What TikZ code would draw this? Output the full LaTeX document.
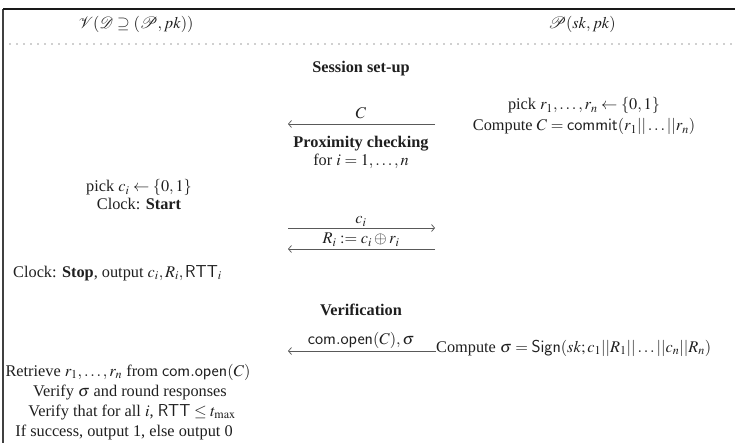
\documentclass[tikz,border=0pt]{standalone}
\usepackage{mathptmx}
\usepackage{fontspec}
\setmainfont{Liberation Serif}
\setsansfont{Liberation Sans}
\usetikzlibrary{arrows.meta}
\begin{document}
\begin{tikzpicture}[x=1pt,y=-1pt,
  txt/.style={inner sep=0pt, anchor=base, font=\fontsize{16.3}{20}\selectfont, text=black!88},
  hd/.style={txt, font=\fontsize{16.3}{20}\selectfont\bfseries},
  msg/.style={draw=black!65, line width=0.75pt, -{Straight Barb[length=3pt,width=7pt]}},
  frame/.style={line width=1.3pt, draw=black!75},
  topline/.style={line width=1.8pt, draw=black!90},
  dots/.style={line width=1.4pt, line cap=round, dash pattern=on 0pt off 7pt, draw=black!80}]
\useasboundingbox (0,0) rectangle (735,443);
% frame
\coordinate (tl) at (3,9);
\coordinate (tr) at (735,9);
\coordinate (bl) at (3,443);
\draw[frame] (tl) -- (bl);
\draw[topline] (tl) -- (tr);
% header
\node[txt] (V) at (136,29) {$\mathcal{V}(\mathcal{D}\supseteq(\mathcal{P},pk))$};
\node[txt] (P) at (582,29) {$\mathcal{P}(sk,pk)$};
\coordinate (d1) at (10,44);
\coordinate (d2) at (735,44);
\draw[dots] (d1) -- (d2);
% session set-up
\node[hd] (ss) at (361,73) {Session set-up};
\node[txt] (pr) at (584,110) {pick $r_1,\ldots,r_n\leftarrow\{0,1\}$};
\node[txt] (cc) at (584,131) {Compute $C=\mathsf{commit}(r_1||\ldots||r_n)$};
\coordinate (a1r) at (435,124);
\coordinate (a1l) at (288,124);
\node[txt] (Clab) at (361,119) {$C$};
\draw[msg] (a1r) -- (a1l);
% proximity checking
\node[hd] (pc) at (361,148) {Proximity checking};
\node[txt] (fori) at (361,166) {for $i=1,\ldots,n$};
\node[txt] (pci) at (139,192) {pick $c_i\leftarrow\{0,1\}$};
\node[txt] (cs) at (139,210) {Clock: \textbf{Start}};
\coordinate (a2l) at (288,228);
\coordinate (a2r) at (435,228);
\node[txt] (cil) at (361,224) {$c_i$};
\draw[msg] (a2l) -- (a2r);
\coordinate (a3r) at (435,249);
\coordinate (a3l) at (288,249);
\node[txt] (ril) at (361,244) {$R_i:=c_i\oplus r_i$};
\draw[msg] (a3r) -- (a3l);
\node[txt, anchor=base west] (cst) at (13,277) {Clock: \textbf{Stop}, output $c_i,R_i,\mathsf{RTT}_i$};
% verification
\node[hd] (ver) at (361,315) {Verification};
\node[txt, anchor=west] (sig) at (436,348) {Compute $\sigma=\mathsf{Sign}(sk;c_1||R_1||\ldots||c_n||R_n)$};
\coordinate (a4l) at (288,351);
\node[txt] (openl) at (361,344) {$\mathsf{com.open}(C),\sigma$};
\draw[msg] (sig.west |- a4l) -- (a4l);
\node[txt] (ret) at (128,376) {Retrieve $r_1,\ldots,r_n$ from $\mathsf{com.open}(C)$};
\node[txt] (vs) at (130,396) {Verify $\sigma$ and round responses};
\node[txt] (vt) at (132,416) {Verify that for all $i$, $\mathsf{RTT}\leq t_{\max}$};
\node[txt] (succ) at (124,436) {If success, output 1, else output 0};
\end{tikzpicture}
\end{document}
